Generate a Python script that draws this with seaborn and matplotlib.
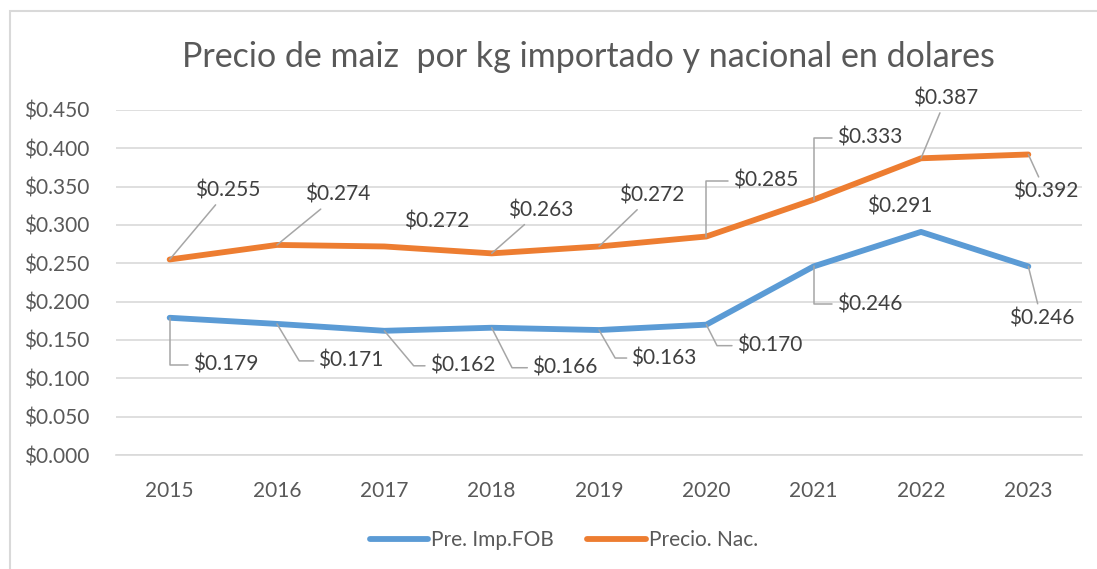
import matplotlib
matplotlib.use("Agg")
import matplotlib.pyplot as plt
import matplotlib.ticker as mticker
from matplotlib.patches import Rectangle
import pandas as pd
import seaborn as sns

# values
YEARS = ["2015", "2016", "2017", "2018", "2019", "2020", "2021", "2022", "2023"]
IMP_FOB = [0.179, 0.171, 0.162, 0.166, 0.163, 0.170, 0.246, 0.291, 0.246]
NACIONAL = [0.255, 0.274, 0.272, 0.263, 0.272, 0.285, 0.333, 0.387, 0.392]
SERIES = ["Pre. Imp.FOB", "Precio. Nac."]
TITLE = "Precio de maiz  por kg importado y nacional en dolares"

# label placement (offset in pixels) and leader style per point
NAC_OFFSETS = [(58, 69), (61, 50), (52, 25), (49, 43), (53, 51), (59, 56), (56, 62), (25, 60), (17, -37)]
NAC_LEADERS = ["arc3", "arc3", None, "arc3", "arc3", 90, 90, "arc3", "arc3"]
FOB_OFFSETS = [(56, -47), (74, -37), (78, -35), (73, -40), (65, -28), (63, -21), (56, -38), (-21, 25), (13, -52)]
FOB_LEADERS = [90, -59, -50, -63, -60, -63, 90, None, "arc3"]

COLORS = {"Pre. Imp.FOB": "#5B9BD5", "Precio. Nac.": "#ED7D31"}
TEXT = "#595959"
FONT = ["Lato", "DejaVu Sans"]

sns.set_style("white")
plt.rcParams["font.family"] = FONT

df = pd.DataFrame({
    "year": YEARS * 2,
    "value": IMP_FOB + NACIONAL,
    "serie": [SERIES[0]] * len(YEARS) + [SERIES[1]] * len(YEARS),
})

fig = plt.figure(figsize=(10.97, 5.69), dpi=100)
ax = fig.add_axes([116 / 1097, 1 - 455 / 569, (1082 - 116) / 1097, (455 - 110) / 569])

sns.lineplot(data=df, x="year", y="value", hue="serie", palette=COLORS,
             linewidth=4.2, ax=ax, sort=False, legend=False)
for ln in ax.lines:
    ln.set_solid_capstyle("round")
    ln.set_solid_joinstyle("round")

ax.set_xlim(-0.5, len(YEARS) - 0.5)
ax.set_ylim(0, 0.45)
ax.yaxis.set_major_locator(mticker.MultipleLocator(0.05))
ax.yaxis.set_major_formatter(mticker.FuncFormatter(lambda v, _: f"${v:.3f}"))
ax.grid(axis="y", color="#D9D9D9", linewidth=1.2)
ax.set_axisbelow(True)
for s in ["top", "right", "left"]:
    ax.spines[s].set_visible(False)
ax.spines["bottom"].set_color("#D9D9D9")
ax.spines["bottom"].set_linewidth(1.2)
ax.tick_params(axis="both", length=0, labelsize=15, labelcolor=TEXT)
ax.tick_params(axis="y", pad=19)
ax.tick_params(axis="x", pad=19)
ax.set_xlabel("")
ax.set_ylabel("")


def add_labels(values, offsets, leaders):
    for i, (v, off, lead) in enumerate(zip(values, offsets, leaders)):
        kw = {}
        if lead is not None:
            if lead == "arc3":
                cs = "arc3"
            else:
                cs = f"angle,angleA=0,angleB={lead},rad=0"
            kw["arrowprops"] = dict(arrowstyle="-", color="#A6A6A6", lw=1.1,
                                    connectionstyle=cs, shrinkA=1, shrinkB=0)
        ax.annotate(f"${v:.3f}", xy=(i, v), xytext=off, textcoords="offset pixels",
                    ha="center", va="center", fontsize=15, color="#404040", **kw)


add_labels(NACIONAL, NAC_OFFSETS, NAC_LEADERS)
add_labels(IMP_FOB, FOB_OFFSETS, FOB_LEADERS)

fig.text(588 / 1097, 1 - 57 / 569, TITLE, ha="center", va="center",
         fontsize=24.5, color=TEXT)

handles = [plt.Line2D([], [], color=COLORS[s], linewidth=4.2, solid_capstyle="round") for s in SERIES]
fig.legend(handles, SERIES, loc="center", bbox_to_anchor=(564 / 1097, 1 - 540 / 569),
           ncol=2, frameon=False, fontsize=15, labelcolor=TEXT, handlelength=2.8,
           handletextpad=0.15, columnspacing=1.6)

# chart area frame
fig.patches.append(Rectangle((10 / 1097, -0.05), 1.1, 1 - 11 / 569 + 0.05,
                             transform=fig.transFigure, fill=False,
                             edgecolor="#D9D9D9", linewidth=1.5))

fig.savefig("out.png", dpi=100)
